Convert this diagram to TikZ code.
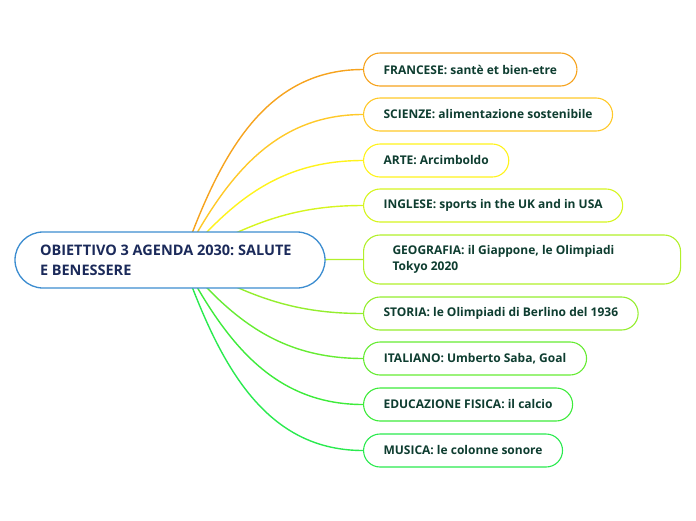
\documentclass[tikz,border=0pt]{standalone}
\usepackage{fontspec}
\setmainfont{Open Sans}
\frenchspacing
\usetikzlibrary{backgrounds}
\definecolor{mainblue}{HTML}{3C8DD0}
\definecolor{maintext}{HTML}{1B2A5A}
\definecolor{subtext}{HTML}{0E3D30}
\definecolor{c1}{HTML}{F6A31E}
\definecolor{c2}{HTML}{FFC929}
\definecolor{c3}{HTML}{FFF31C}
\definecolor{c4}{HTML}{D6F51F}
\definecolor{c5}{HTML}{B2F02B}
\definecolor{c6}{HTML}{94EE2E}
\definecolor{c7}{HTML}{66EC33}
\definecolor{c8}{HTML}{3EEB3B}
\definecolor{c9}{HTML}{2AEA4F}

\begin{document}
\begin{tikzpicture}[x=1pt,y=1pt]
		\tikzstyle{main topic}=[draw=mainblue, line width=1.3pt, fill=white, rounded corners=28pt, minimum height=56pt, text width=260pt, inner xsep=25pt, align=flush left, text=maintext, font=\fontsize{14.5}{20}\selectfont\bfseries]
		\tikzstyle{sub topic}=[anchor=west, line width=1.1pt, fill=white, rounded corners=16.5pt, minimum height=33pt, inner xsep=20pt, align=flush left, text=subtext, font=\fontsize{12}{16}\selectfont\bfseries]
		\tikzstyle{wide topic}=[text width=259pt, inner xsep=29pt, minimum height=49pt]
		\tikzstyle{branch}=[line width=1.4pt]
		
		\useasboundingbox (0,0) rectangle (696,-520);
		
		% Draw the central topic
		\node[main topic] (C) at (170,-260) {OBIETTIVO 3 AGENDA 2030: SALUTE\\E BENESSERE};
		\coordinate (R) at (182,-260);
		
		% Draw the subtopics and connect each one with the central topic
		\foreach \i/\y/\w/\col/\ang/\txt in {
			1/69.5/212/c1/70/{FRANCESE: santè et bien-etre},
			2/114.5/249/c2/62/{SCIENZE: alimentazione sostenibile},
			3/160.5/144/c3/50/{ARTE: Arcimboldo},
			4/205.5/259/c4/28/{INGLESE: sports in the UK and in USA},
			5/259.5/317/c5/0/{GEOGRAFIA: il Giappone, le Olimpiadi\\Tokyo 2020},
			6/313.5/273/c6/-28/{STORIA: le Olimpiadi di Berlino del 1936},
			7/358.5/223/c7/-50/{ITALIANO: Umberto Saba, Goal},
			8/404.5/209/c8/-62/{EDUCAZIONE FISICA: il calcio},
			9/450.5/198/c9/-70/{MUSICA: le colonne sonore}}{
			\ifnum\i=5
			\node[sub topic, wide topic, draw=\col] (B-\i) at (363,-\y) {\txt};
			\else
			\node[sub topic, minimum width=\w pt, draw=\col] (B-\i) at (363,-\y) {\txt};
			\fi
			\begin{pgfonlayer}{background}
				\draw[branch, draw=\col] (R) to[out=\ang, in=180] (B-\i.west);
			\end{pgfonlayer}
		}
	\end{tikzpicture}
\end{document}
